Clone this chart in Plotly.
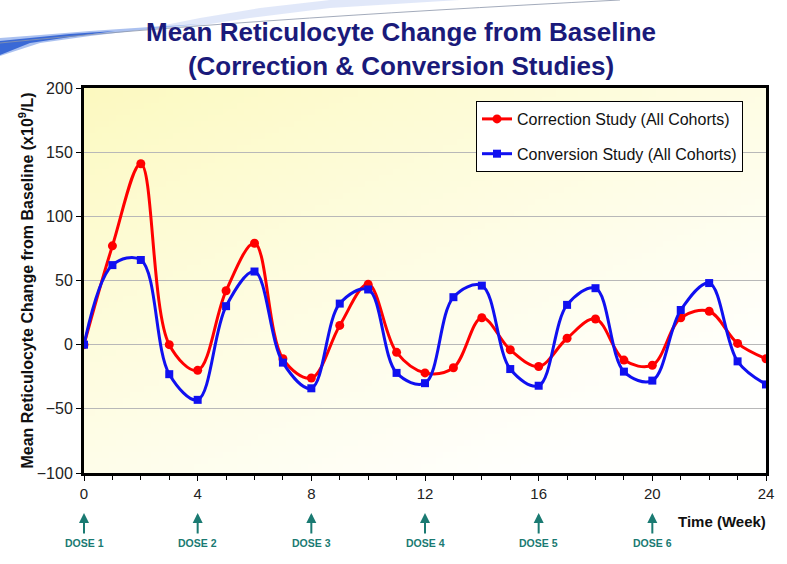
import base64, struct, zlib
import plotly.graph_objects as go

weeks = list(range(0, 25))
correction = [0, 77, 141, 0, -20, 42, 79, -11, -26, 15, 47, -6, -22, -18, 21, -4, -17, 5, 20, -12, -16, 21, 26, 1, -11]
conversion = [0, 62, 66, -23, -43, 30, 57, -14, -34, 32, 43, -22, -30, 37, 46, -19, -32, 31, 44, -21, -28, 27, 48, -13, -31]
dose_weeks = [0, 4, 8, 12, 16, 20]
dose_labels = ["DOSE 1", "DOSE 2", "DOSE 3", "DOSE 4", "DOSE 5", "DOSE 6"]
y_ticks = [-100, -50, 0, 50, 100, 150, 200]
x_ticks = [0, 4, 8, 12, 16, 20, 24]

W, H = 787, 564
ML, MR, MT, MB = 84, 21, 88, 91
PW, PH = W - ML - MR, H - MT - MB


def px(x, y):
    return (x - ML) / PW, (H - MB - y) / PH


def gradient_png(w, h, c0, c1):
    rows = b""
    for j in range(h):
        row = b"\x00"
        for i in range(w):
            t = min(1.0, max(0.0, (i / (w - 1)) * 0.55 + (j / (h - 1)) * 0.65))
            t = t ** 0.9
            row += bytes(int(round(c0[k] + (c1[k] - c0[k]) * t)) for k in range(3))
        rows += row

    def chunk(tag, data):
        c = struct.pack(">I", len(data)) + tag + data
        return c + struct.pack(">I", zlib.crc32(tag + data) & 0xffffffff)

    png = b"\x89PNG\r\n\x1a\n" + chunk(b"IHDR", struct.pack(">IIBBBBB", w, h, 8, 2, 0, 0, 0))
    png += chunk(b"IDAT", zlib.compress(rows, 9)) + chunk(b"IEND", b"")
    return "data:image/png;base64," + base64.b64encode(png).decode()


fig = go.Figure()
fig.add_trace(go.Scatter(
    x=weeks, y=correction, mode="lines+markers", name="Correction Study (All Cohorts)",
    line=dict(color="#ff0000", width=3, shape="spline", smoothing=1.0),
    marker=dict(symbol="circle", size=9, color="#ff0000"), legendgroup="a"))
fig.add_trace(go.Scatter(
    x=weeks, y=conversion, mode="lines+markers", name="Conversion Study (All Cohorts)",
    line=dict(color="#1010f0", width=3, shape="spline", smoothing=1.0),
    marker=dict(symbol="square", size=8, color="#1010f0"), legendgroup="b"))

annotations = []
for wk, lab in zip(dose_weeks, dose_labels):
    _, yp = px(0, 513)
    annotations.append(dict(
        x=wk, y=yp, xref="x", yref="paper", text="<b>" + lab + "</b>",
        showarrow=True, ax=0, ay=30, arrowhead=2, arrowsize=1, arrowwidth=2,
        arrowcolor="#1a7a72", standoff=0, startstandoff=2,
        font=dict(family="Liberation Sans, Arial", size=10.5, color="#1a7a72")))
xp, yp = px(722, 521)
annotations.append(dict(x=xp, y=yp, xref="paper", yref="paper", text="<b>Time (Week)</b>",
                        xanchor="center", yanchor="middle",
                        showarrow=False, font=dict(family="Liberation Sans, Arial", size=15, color="#111111")))

# decorative swoosh (top-left)
def path(points):
    s = ""
    for k, (a, b) in enumerate(points):
        xx, yy = px(a, b)
        s += ("M" if k == 0 else "L") + f"{xx:.4f},{yy:.4f} "
    return s + "Z"

shapes = [
    dict(type="path", xref="paper", yref="paper", layer="above", line=dict(width=0),
         fillcolor="rgba(200,214,244,0.55)",
         path=path([(140, 30), (200, 18), (260, 8), (330, 0), (460, 0), (330, 8), (250, 18), (190, 27)])),
    dict(type="path", xref="paper", yref="paper", layer="above", line=dict(width=0),
         fillcolor="rgba(150,178,236,0.8)",
         path=path([(0, 38), (40, 35), (90, 31), (150, 27), (200, 24), (150, 29), (90, 36), (40, 43), (0, 56)])),
    dict(type="path", xref="paper", yref="paper", layer="above", line=dict(width=0),
         fillcolor="rgba(52,100,212,0.95)",
         path=path([(0, 41), (30, 38), (70, 34), (115, 31), (70, 37), (30, 43), (0, 55)])),
    dict(type="path", xref="paper", yref="paper", layer="above",
         line=dict(width=1, color="rgba(140,150,170,0.8)"),
         path=" ".join(["M{:.4f},{:.4f}".format(*px(0, 43)),
                        "Q{:.4f},{:.4f}".format(*px(230, 20)), "{:.4f},{:.4f}".format(*px(620, 0))])),
]

fig.update_layout(
    width=W, height=H,
    margin=dict(l=ML, r=MR, t=MT, b=MB),
    paper_bgcolor="white", plot_bgcolor="rgba(0,0,0,0)",
    font=dict(family="Liberation Sans, Arial", size=15, color="#222222"),
    title=dict(text="<b>Mean Reticulocyte Change from Baseline<br>(Correction & Conversion Studies)</b>",
               x=(401 - ML) / PW, xref="paper", xanchor="center", y=1 - 41 / H, yanchor="middle",
               pad=dict(t=0, b=0), font=dict(family="Liberation Sans, Arial", size=26, color="#1a1a7a")),
    showlegend=True,
    legend=dict(x=px(476, 0)[0], y=px(0, 101)[1], xanchor="left", yanchor="top",
                bgcolor="white", bordercolor="black", borderwidth=1,
                font=dict(family="Liberation Sans, Arial", size=16, color="#111111"),
                tracegroupgap=11, itemwidth=30),
    xaxis=dict(range=[0, 24], tickvals=x_ticks, ticks="outside", ticklen=5, tickwidth=1,
               tickcolor="black", showgrid=False, zeroline=False,
               showline=True, linecolor="black", linewidth=3, mirror=True,
               minor=dict(dtick=1, ticks="outside", ticklen=4, tickcolor="black", showgrid=False),
               tickfont=dict(size=15, color="#222222")),
    yaxis=dict(range=[-100, 200], tickvals=y_ticks, ticks="outside", ticklen=5, tickwidth=1,
               tickcolor="black", showgrid=True, gridcolor="#b8b8b8", gridwidth=1, zeroline=False,
               showline=True, linecolor="black", linewidth=3, mirror=True,
               tickfont=dict(size=16, color="#222222"),
               title=dict(text="<b>Mean Reticulocyte Change from Baseline (x10<sup>9</sup>/L)</b>",
                          font=dict(family="Liberation Sans, Arial", size=16, color="#111111"),
                          standoff=0)),
    annotations=annotations,
    shapes=shapes,
    images=[dict(source=gradient_png(96, 64, (252, 249, 192), (255, 255, 253)),
                 xref="paper", yref="paper", x=0, y=1, sizex=1, sizey=1,
                 sizing="stretch", layer="below", xanchor="left", yanchor="top")],
)

fig.write_html("out.html", config={"displayModeBar": False},
               post_script="document.body.style.margin='0';")
